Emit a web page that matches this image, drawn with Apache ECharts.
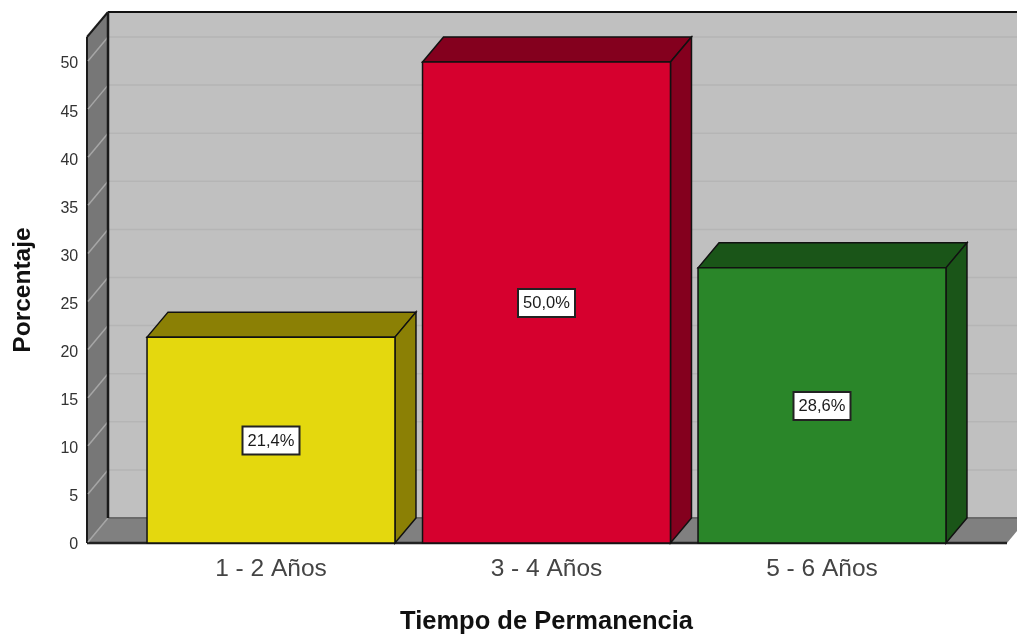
<!DOCTYPE html>
<html>
<head>
<meta charset="utf-8">
<style>html,body{margin:0;padding:0;background:#fff}#chart{width:1017px;height:635px}</style>
<script src="https://cdn.jsdelivr.net/npm/echarts@6/dist/echarts.min.js"></script>
</head>
<body>
<div id="chart"></div>
<script>
const categories = ['1 - 2 Años', '3 - 4 Años', '5 - 6 Años'];
const percentages = [21.4, 50.0, 28.6];
const yTicks = [0, 5, 10, 15, 20, 25, 30, 35, 40, 45, 50];
const faceColors = ['#e4d80e', '#d6002e', '#2a8629'];
const shadeColors = ['#8b8005', '#84001e', '#1a5518'];

// Oblique projection of the chart box
const DX = 21, DY = 25;
const GRID = { left: 133.25, top: 37, width: 826.5, height: 506, outerBoundsMode: 'none' };
const WALL_LEFT = 87, FLOOR_RIGHT = 1007;
const FONT = 'Liberation Sans, Arial, sans-serif';

function poly(points, fill, stroke, lineWidth) {
  return {
    type: 'polygon',
    shape: { points },
    style: { fill, stroke: stroke || null, lineWidth: lineWidth || 0, lineJoin: 'miter' }
  };
}
function seg(x1, y1, x2, y2, stroke, lineWidth) {
  return { type: 'line', shape: { x1, y1, x2, y2 }, style: { stroke, lineWidth } };
}

// Back wall, side wall, floor and their outlines
function renderBox(params, api) {
  const base = api.coord([0, 0])[1];
  const top = GRID.top;
  const L = WALL_LEFT, R = FLOOR_RIGHT;
  return {
    type: 'group',
    children: [
      poly([[L + DX, top - DY], [R + DX, top - DY], [R + DX, base - DY], [L + DX, base - DY]], '#c0c0c0'),
      poly([[L, top], [L + DX, top - DY], [L + DX, base - DY], [L, base]], '#777777'),
      poly([[L, base], [L + DX, base - DY], [R + DX, base - DY], [R, base]], '#808080'),
      seg(L + DX, base - DY, R + DX, base - DY, '#6a6a6a', 2),
      seg(L, base, R, base, '#222222', 2.5),
      seg(L, base + 1.5, R, base + 1.5, '#c4c4c4', 1),
      seg(L, base, L, top, '#1a1a1a', 2),
      seg(L, top, L + DX, top - DY, '#1a1a1a', 2),
      seg(L + DX, top - DY, R + DX, top - DY, '#111111', 2)
    ]
  };
}

// One gridline across the back wall and down the side wall
function renderGridline(params, api) {
  const y = api.coord([0, api.value(0)])[1];
  const L = WALL_LEFT, R = FLOOR_RIGHT;
  const children = [seg(L + 1, y - 1, L + DX, y - DY, '#a6a6a6', 1.5)];
  if (api.value(0) > 0) children.push(seg(L + DX, y - DY, R + DX, y - DY, '#b5b5b5', 1.5));
  return { type: 'group', children };
}

// Vertical edge of the back wall, drawn over the gridlines
function renderBackEdge(params, api) {
  const base = api.coord([0, 0])[1];
  const x = WALL_LEFT + DX;
  return seg(x, GRID.top - DY, x, base - DY, '#1a1a1a', 2.5);
}

// Extruded bar with its value box at half height
function renderBar(params, api) {
  const i = api.value(0), v = api.value(1);
  const c = api.coord([i, v]), b = api.coord([i, 0]);
  const w = api.size([1, 0])[0] * 0.9;
  const x0 = c[0] - w / 2, x1 = c[0] + w / 2, yt = c[1], yb = b[1];
  const mid = api.coord([i, v / 2])[1];
  const edge = '#111111';
  return {
    type: 'group',
    children: [
      poly([[x0, yt], [x0 + DX, yt - DY], [x1 + DX, yt - DY], [x1, yt]], shadeColors[i], edge, 1.5),
      poly([[x1, yt], [x1 + DX, yt - DY], [x1 + DX, yb - DY], [x1, yb]], shadeColors[i], edge, 1.5),
      poly([[x0, yt], [x1, yt], [x1, yb], [x0, yb]], faceColors[i], edge, 1.5),
      {
        type: 'rect',
        shape: { x: c[0] - 28.5, y: mid - 13.5, width: 57, height: 28 },
        style: { fill: '#ffffff', stroke: '#222222', lineWidth: 2 }
      },
      {
        type: 'text',
        style: {
          x: c[0], y: mid + 1,
          text: v.toFixed(1).replace('.', ',') + '%',
          fill: '#1a1a1a',
          font: '16.5px ' + FONT,
          align: 'center',
          verticalAlign: 'middle'
        }
      }
    ]
  };
}

const chart = echarts.init(document.getElementById('chart'), null, { renderer: 'canvas' });
chart.setOption({
  animation: false,
  backgroundColor: '#ffffff',
  grid: GRID,
  xAxis: {
    type: 'category',
    data: categories,
    axisLine: { show: false },
    axisTick: { show: false },
    axisLabel: { fontFamily: FONT, fontSize: 24.5, color: '#444444', margin: 14 },
    name: 'Tiempo de Permanencia',
    nameLocation: 'middle',
    nameGap: 66,
    nameTextStyle: { fontFamily: FONT, fontSize: 25.5, fontWeight: 'bold', color: '#111111' }
  },
  yAxis: {
    type: 'value',
    min: 0,
    max: 52.6,
    interval: 5,
    axisLine: { show: false },
    axisTick: { show: false },
    splitLine: { show: false },
    axisLabel: {
      fontFamily: FONT, fontSize: 16, color: '#333333', margin: 55,
      verticalAlign: 'top',
      lineHeight: 4,
      showMaxLabel: false,
      formatter: v => (yTicks.includes(v) ? String(v) : '')
    },
    name: 'Porcentaje',
    nameLocation: 'middle',
    nameGap: 98,
    nameTextStyle: { fontFamily: FONT, fontSize: 24.5, fontWeight: 'bold', color: '#111111' }
  },
  series: [
    { type: 'custom', name: 'box', renderItem: renderBox, data: [[0, 0]], clip: false, silent: true, z: 1,
      encode: { x: 0, y: 1 } },
    { type: 'custom', name: 'gridlines', renderItem: renderGridline, data: yTicks.map(t => [t]), clip: false,
      silent: true, z: 2, encode: { y: 0 } },
    { type: 'custom', name: 'edge', renderItem: renderBackEdge, data: [[0, 0]], clip: false, silent: true, z: 3,
      encode: { x: 0, y: 1 } },
    { type: 'custom', name: 'Porcentaje', renderItem: renderBar,
      data: percentages.map((v, i) => [i, v]), clip: false, z: 4, encode: { x: 0, y: 1 } }
  ]
});
</script>
</body>
</html>
